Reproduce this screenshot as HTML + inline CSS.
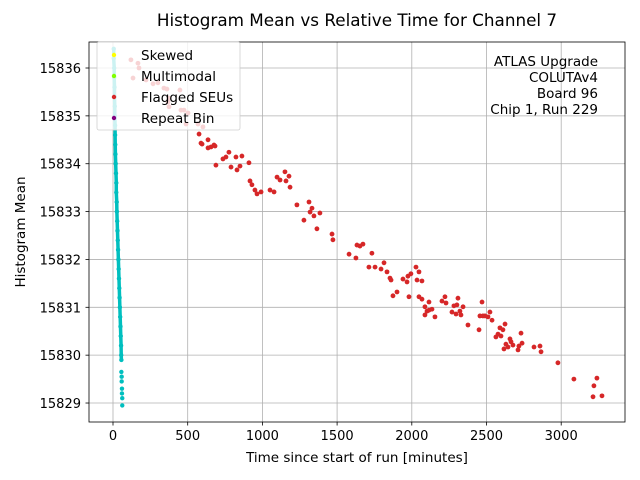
<!DOCTYPE html>
<html><head><meta charset="utf-8"><style>
body{margin:0;background:#fff;}
svg{display:block;font-family:"DejaVu Sans","Liberation Sans",sans-serif;}
</style></head><body>
<svg id="chart" width="640" height="480" xmlns="http://www.w3.org/2000/svg"></svg>
<script>
const xTicks=[0,500,1000,1500,2000,2500,3000];
const yTicks=[15829,15830,15831,15832,15833,15834,15835,15836];
const seuTime=[120,167,174,134,221,268,301,341,361,448,375,368,375,455,475,502,489,569,602,
576,589,596,636,656,676,683,636,689,756,776,736,790,823,863,830,850,910,917,930,950,964,991,1051,1078,1098,1151,1158,1185,1178,1118,1231,1278,1312,1319,1332,1345,1365,1385,1472,1466,1580,1626,1633,1653,1673,1733,1754,1713,1794,1814,1834,1854,1861,1874,1901,1941,1974,1968,1981,1994,2028,2035,2048,2048,2068,2068,2088,2088,2102,2115,2115,2135,2155,2202,2222,2229,2269,2282,2296,2302,2309,2322,2329,2343,2376,2450,2456,2470,2476,2490,2510,2523,2537,2563,2577,2590,2597,2610,2624,2617,2630,2644,2657,2664,2677,2711,2717,2731,2738,2818,2865,2858,2978,3085,3213,3219,3239,3273];
const seuMean=[15836.17,15836.10,15836.00,15835.79,15835.75,15835.67,15835.69,15835.58,15835.56,15835.54,15835.37,15835.29,15835.19,15835.12,15835.12,15835.06,15834.83,15834.83,15834.77,
15834.62,15834.43,15834.41,15834.50,15834.35,15834.39,15834.37,15834.33,15833.97,15834.14,15834.24,15834.10,15833.93,15834.14,15834.16,15833.87,15833.95,15834.02,15833.64,15833.56,15833.45,15833.37,15833.41,15833.45,15833.41,15833.72,15833.83,15833.64,15833.51,15833.74,15833.66,15833.14,15832.82,15833.20,15832.99,15833.07,15832.91,15832.64,15832.97,15832.41,15832.53,15832.11,15832.03,15832.30,15832.28,15832.32,15832.13,15831.84,15831.84,15831.80,15831.93,15831.74,15831.61,15831.57,15831.24,15831.32,15831.59,15831.65,15831.53,15831.22,15831.70,15831.84,15831.57,15831.74,15831.22,15831.55,15831.17,15831.01,15830.84,15830.92,15831.11,15830.94,15830.96,15830.80,15831.13,15831.22,15831.09,15830.90,15831.03,15830.86,15831.05,15831.19,15830.92,15830.84,15831.01,15830.63,15830.53,15830.82,15831.11,15830.82,15830.82,15830.80,15830.90,15830.73,15830.38,15830.44,15830.57,15830.40,15830.53,15830.65,15830.13,15830.23,15830.17,15830.34,15830.28,15830.21,15830.11,15830.19,15830.46,15830.25,15830.17,15830.07,15830.19,15829.84,15829.50,15829.13,15829.36,15829.52,15829.15];
const okTime=[5,5,8,8,10,10,12,12,14,14,15,16,18,20,22,22,25,26,28,30,32,34,36,38,40,42,44,46,48,50,52,54,55,56];
const okMean=[15836.4,15836.2,15836.0,15835.8,15835.6,15835.4,15835.2,15835.0,15834.8,15834.6,15834.4,15834.2,15834.0,15833.8,15833.6,15833.4,15833.2,15833.0,15832.8,15832.6,15832.4,15832.2,15832.0,15831.8,15831.6,15831.4,15831.2,15831.0,15830.8,15830.6,15830.4,15830.2,15830.0,15829.9];
const tailTime=[56,58,58,60,60,62,62];
const tailMean=[15829.65,15829.55,15829.45,15829.3,15829.2,15829.1,15828.95];

const L=89,R=625,T=42,B=422;
const xs=t=>113+(t-0)*(74.7/500);
const ys=v=>68+(15836-v)*47.86;
const svg=document.getElementById('chart');
const NS='http://www.w3.org/2000/svg';
function mk(tag,attrs,parent){const e=document.createElementNS(NS,tag);for(const k in attrs)e.setAttribute(k,attrs[k]);(parent||svg).appendChild(e);return e;}

xTicks.forEach(t=>{
  const g=mk('line',{x1:xs(t),x2:xs(t),y1:T,y2:B,stroke:'#b0b0b0','stroke-width':0.8});
  
  
  const tk=mk('line',{x1:xs(t),x2:xs(t),y1:B,y2:B+3.5,stroke:'#000','stroke-width':0.8});
  
  
  const lb=mk('text',{x:xs(t),y:B+18,'text-anchor':'middle','font-size':13,fill:'#000'});
  lb.textContent=t;
  
  
});
yTicks.forEach(v=>{
  const g=mk('line',{x1:L,x2:R,y1:ys(v),y2:ys(v),stroke:'#b0b0b0','stroke-width':0.8});
  
  
  const tk=mk('line',{x1:L-3.5,x2:L,y1:ys(v),y2:ys(v),stroke:'#000','stroke-width':0.8});
  
  
  const lb=mk('text',{x:L-8,y:ys(v)+5,'text-anchor':'end','font-size':13,fill:'#000'});
  lb.textContent=v;
  
  
});

const pts=okTime.map((t,i)=>xs(t)+','+ys(okMean[i])).join(' ');
const pl=mk('polyline',{points:pts,fill:'none',stroke:'#00bfbf','stroke-width':3.5,'stroke-linejoin':'round'});


okTime.concat(tailTime).forEach((t,i)=>{
  const v=i<okTime.length?okMean[i]:tailMean[i-okTime.length];
  const c=mk('circle',{cx:xs(t),cy:ys(v),r:2.2,fill:'#00bfbf'});
  
  
});
seuTime.forEach((t,i)=>{
  const c=mk('circle',{cx:xs(t),cy:ys(seuMean[i]),r:2.4,fill:'#d62728'});
  
  
});

const fr=mk('rect',{x:L,y:T,width:R-L,height:B-T,fill:'none',stroke:'#000','stroke-width':0.8});



const lg=mk('g',{});


mk('rect',{x:97,y:42,width:143,height:88,rx:2,fill:'rgba(255,255,255,0.8)',stroke:'#d0d0d0','stroke-width':0.8},lg);
const legNames=['Skewed','Multimodal','Flagged SEUs','Repeat Bin'];
const legCols=['#ffff00','#7fff00','#d62728','#800080'];
legNames.forEach((n,i)=>{
  const y=55+i*21;
  const e=mk('g',{},lg);
  
  
  mk('circle',{cx:114,cy:y,r:2.2,fill:legCols[i]},e);
  const tx=mk('text',{x:141,y:y+5,'font-size':13.5,fill:'#000'},e);
  tx.textContent=n;
});

const an=['ATLAS Upgrade','COLUTAv4','Board 96','Chip 1, Run 229'];
an.forEach((s,i)=>{
  const tx=mk('text',{x:598,y:66+i*16,'text-anchor':'end','font-size':13.5,fill:'#000'});
  tx.textContent=s;
  
  
});

const title=mk('text',{x:357,y:26,'text-anchor':'middle','font-size':16.8,fill:'#000'});
title.textContent='Histogram Mean vs Relative Time for Channel 7';


const xl=mk('text',{x:357,y:462,'text-anchor':'middle','font-size':13.5,fill:'#000'});
xl.textContent='Time since start of run [minutes]';


const yl=mk('text',{x:0,y:0,'text-anchor':'middle','font-size':13.5,fill:'#000',transform:'translate(25,232) rotate(-90)'});
yl.textContent='Histogram Mean';


</script>
</body></html>
